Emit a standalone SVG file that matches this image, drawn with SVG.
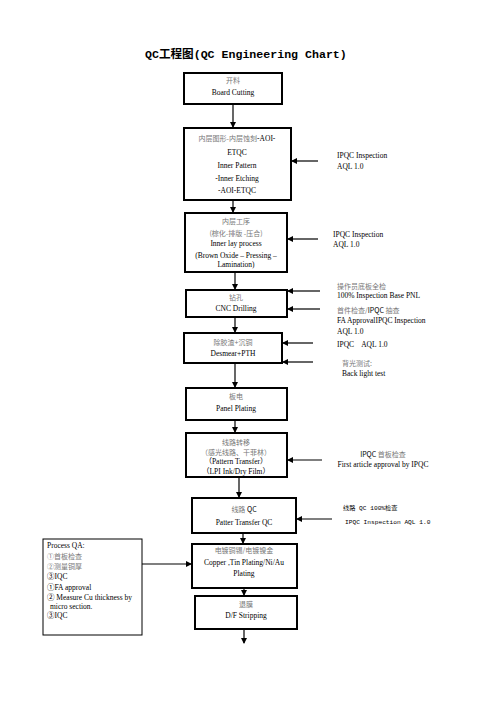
<svg xmlns="http://www.w3.org/2000/svg" width="496" height="702" viewBox="0 0 496 702">
<defs>
<marker id="ah" markerWidth="6" markerHeight="6" refX="5" refY="3" orient="auto" markerUnits="userSpaceOnUse">
<path d="M0,0 L6,3 L0,6 Z" fill="#000"/>
</marker>
<style>
.box{fill:#fff;stroke:#000;stroke-width:2}
.qa{fill:#fff;stroke:#000;stroke-width:1}
.t{font-family:"Liberation Serif","Noto Sans CJK SC",serif;font-size:7.5px;fill:#000;text-anchor:middle;white-space:pre}
.c{font-family:"Noto Sans CJK SC","Liberation Serif",sans-serif;font-size:7px;fill:#777;text-anchor:middle}
.l{text-anchor:start}
.m{font-family:"Liberation Mono","Noto Sans CJK SC",monospace;font-size:6.2px;fill:#000}
.title{font-family:"Liberation Mono","Noto Sans CJK SC",monospace;font-size:11.6px;font-weight:bold;fill:#000}
.cn{stroke:#000;stroke-width:1.2;fill:none;marker-end:url(#ah)}
</style>
</defs>
<rect width="496" height="702" fill="#fff"/>
<text class="title" x="145" y="58">QC工程图(QC Engineering Chart)</text>

<g id="connectors">
<line class="cn" x1="233" y1="104" x2="233" y2="127"/>
<line class="cn" x1="233" y1="200" x2="233" y2="212"/>
<line class="cn" x1="235" y1="272" x2="235" y2="289"/>
<line class="cn" x1="235" y1="317" x2="235" y2="332"/>
<line class="cn" x1="235" y1="363" x2="235" y2="387"/>
<line class="cn" x1="235" y1="420" x2="235" y2="432"/>
<line class="cn" x1="239" y1="477" x2="239" y2="497"/>
<line class="cn" x1="243" y1="533" x2="243" y2="543"/>
<line class="cn" x1="244" y1="588" x2="244" y2="595"/>
<line class="cn" x1="244" y1="629" x2="244" y2="643"/>
<line class="cn" x1="318" y1="161" x2="292" y2="161"/>
<line class="cn" x1="318" y1="239" x2="288" y2="239"/>
<line class="cn" x1="320" y1="291" x2="288" y2="291"/>
<line class="cn" x1="320" y1="309" x2="288" y2="309"/>
<line class="cn" x1="313" y1="343" x2="283" y2="343"/>
<line class="cn" x1="313" y1="362" x2="283" y2="362"/>
<line class="cn" x1="322" y1="460" x2="288" y2="460"/>
<line class="cn" x1="332" y1="519" x2="297" y2="519"/>
<line class="cn" x1="142" y1="564" x2="191" y2="564"/>
</g>

<g id="n1">
<rect class="box" x="184" y="73" width="98" height="31"/>
<text class="c" x="233" y="83">开料</text>
<text class="t" x="233" y="95">Board Cutting</text>
</g>

<g id="n2">
<rect class="box" x="184" y="128" width="107" height="72"/>
<text class="c" x="237" y="141">内层图形-内层蚀刻<tspan style="fill:#000;font-family:'Liberation Serif',serif;font-size:7.5px">-AOI-</tspan></text>
<text class="t" x="237" y="155">ETQC</text>
<text class="t" x="237" y="168">Inner Pattern</text>
<text class="t" x="237" y="181">-Inner Etching</text>
<text class="t" x="237" y="193">-AOI-ETQC</text>
</g>

<g id="n3">
<rect class="box" x="185" y="213" width="102" height="59"/>
<text class="c" x="236" y="224">内层工序</text>
<text class="c" x="236" y="236">(棕化-排版 -压合)</text>
<text class="t" x="236" y="246">Inner lay process</text>
<text class="t" x="236" y="258">(Brown Oxide – Pressing –</text>
<text class="t" x="236" y="267">Lamination)</text>
</g>

<g id="n4">
<rect class="box" x="186" y="290" width="101" height="27"/>
<text class="c" x="236" y="300">钻孔</text>
<text class="t" x="236" y="311">CNC Drilling</text>
</g>

<g id="n5">
<rect class="box" x="184" y="333" width="98" height="30"/>
<text class="c" x="233" y="345">除胶渣+沉铜</text>
<text class="t" x="233" y="356">Desmear+PTH</text>
</g>

<g id="n6">
<rect class="box" x="186" y="388" width="101" height="32"/>
<text class="c" x="236" y="399">板电</text>
<text class="t" x="236" y="411">Panel Plating</text>
</g>

<g id="n7">
<rect class="box" x="186" y="433" width="101" height="44"/>
<text class="c" x="236" y="445">线路转移</text>
<text class="c" x="236" y="455">（感光线路、干菲林）</text>
<text class="t" x="236" y="464">（Pattern Transfer）</text>
<text class="t" x="236" y="474">（LPI Ink/Dry Film）</text>
</g>

<g id="n8">
<rect class="box" x="192" y="498" width="104" height="35"/>
<text class="c" x="244" y="512">线路 <tspan style="fill:#000">QC</tspan></text>
<text class="t" x="244" y="525">Patter Transfer QC</text>
</g>

<g id="n9">
<rect class="box" x="192" y="544" width="105" height="44"/>
<text class="c" x="244" y="553">电镀铜锡/电镀镍金</text>
<text class="t" x="244" y="565">Copper ,Tin Plating/Ni/Au</text>
<text class="t" x="244" y="576">Plating</text>
</g>

<g id="n10">
<rect class="box" x="195" y="596" width="102" height="33"/>
<text class="c" x="246" y="607">退膜</text>
<text class="t" x="246" y="618">D/F Stripping</text>
</g>

<g id="qa">
<rect class="qa" x="43" y="539" width="99" height="96"/>
<text class="t l" x="47" y="548">Process QA:</text>
<text class="c l" x="47" y="559">①首板检查</text>
<text class="c l" x="47" y="569">②测量铜厚</text>
<text class="t l" x="47" y="579">③IQC</text>
<text class="t l" x="47" y="590">①FA approval</text>
<text class="t l" x="47" y="600">② Measure Cu thickness by</text>
<text class="t l" x="50" y="609">micro section.</text>
<text class="t l" x="47" y="618">③IQC</text>
</g>

<g id="notes">
<text class="t l" x="337" y="158">IPQC Inspection</text>
<text class="t l" x="337" y="169">AQL 1.0</text>
<text class="t l" x="333" y="237">IPQC Inspection</text>
<text class="t l" x="333" y="247">AQL 1.0</text>
<text class="c l" x="337" y="289">操作员底板全检</text>
<text class="t l" x="337" y="298">100% Inspection Base PNL</text>
<text class="c l" x="337" y="313">首件检查/<tspan style="fill:#000">IPQC </tspan>抽查</text>
<text class="t l" x="337" y="323">FA ApprovalIPQC Inspection</text>
<text class="t l" x="337" y="334">AQL 1.0</text>
<text class="t l" x="337" y="347">IPQC    AQL 1.0</text>
<text class="c l" x="342" y="366">背光测试:</text>
<text class="t l" x="342" y="376">Back light test</text>
<text class="c" x="383" y="457"><tspan style="fill:#000">IPQC </tspan>首板检查</text>
<text class="t" x="383" y="467">First article approval by IPQC</text>
<text class="m" x="343" y="510">线路 QC 100%检查</text>
<text class="m" x="345" y="524">IPQC Inspection AQL 1.0</text>
</g>
</svg>
